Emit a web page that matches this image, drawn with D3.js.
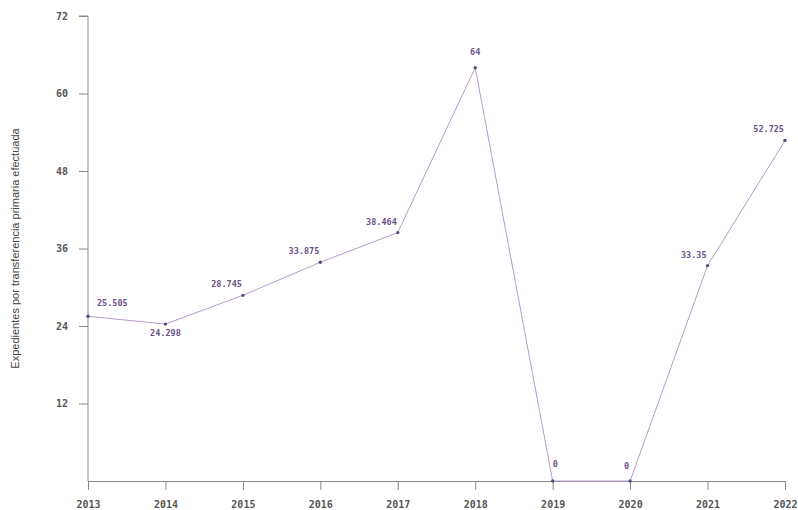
<!DOCTYPE html>
<html><head><meta charset="utf-8">
<script src="https://cdn.jsdelivr.net/npm/d3@7"></script>
<style>
body{margin:0;background:#fff;}
svg{display:block;}
.tick text{font-family:"DejaVu Sans Mono",monospace;font-weight:bold;font-size:10px;fill:#555;}
.domain,.tick line{stroke:#888;}
</style></head>
<body>
<svg id="c" width="798" height="510"></svg>
<script>
const years = ["2013","2014","2015","2016","2017","2018","2019","2020","2021","2022"];
const values = [25.505,24.298,28.745,33.875,38.464,64,0,0,33.35,52.725];
const yTicks = [12,24,36,48,60,72];
const labelPlace = ["ur","b","ul","ul","ul","t","ur","ul","ul","ul"];

const svg = d3.select("#c");
const m = {l:88, r:13, t:16, b:29};
const W = 798, H = 510;
const x = d3.scalePoint().domain(years).range([m.l, W-m.r]);
const y = d3.scaleLinear().domain([0,72]).range([H-m.b, m.t]);

const gx = svg.append("g").attr("transform",`translate(0,${H-m.b})`)
  .call(d3.axisBottom(x).tickSize(9).tickSizeOuter(0).tickPadding(11));
const gy = svg.append("g").attr("transform",`translate(${m.l},0)`)
  .call(d3.axisLeft(y).tickValues(yTicks).tickSize(9).tickSizeOuter(0).tickPadding(11));
gy.select(".domain").attr("d",`M-9,${y(72)}H0V${y(0)}`);

svg.append("text").attr("transform",`translate(19,${(y(0)+y(72))/2}) rotate(-90)`)
  .attr("text-anchor","middle").attr("font-family","Liberation Sans, Arial, sans-serif")
  .attr("font-size",11).attr("fill","#444")
  .text("Expedientes por transferencia primaria efectuada");

const line = d3.line().x((d,i)=>x(years[i])).y(d=>y(d));
svg.append("path").datum(values).attr("d",line).attr("fill","none")
  .attr("stroke","#b49cc9").attr("stroke-width",1);

svg.selectAll("circle.p").data(values).join("circle")
  .attr("cx",(d,i)=>x(years[i])).attr("cy",d=>y(d)).attr("r",1.7).attr("fill","#5e4a7c");

const off = {ur:[9,-10,"start"], b:[0,12,"middle"], ul:[-1,-8,"end"], t:[0,-13,"middle"]};
svg.selectAll("text.lab").data(values).join("text")
  .attr("x",(d,i)=>x(years[i])+off[labelPlace[i]][0] + (values[i]===0 ? (labelPlace[i]==="ur"?-9:0) : 0))
  .attr("y",(d,i)=>y(d)+off[labelPlace[i]][1] + (values[i]===0 ? -4 : 0))
  .attr("text-anchor",(d,i)=>off[labelPlace[i]][2])
  .attr("font-family","DejaVu Sans Mono, monospace").attr("font-size",8.5).attr("font-weight","bold")
  .attr("fill","#6a5488")
  .text(d=>d);
</script>
</body></html>
